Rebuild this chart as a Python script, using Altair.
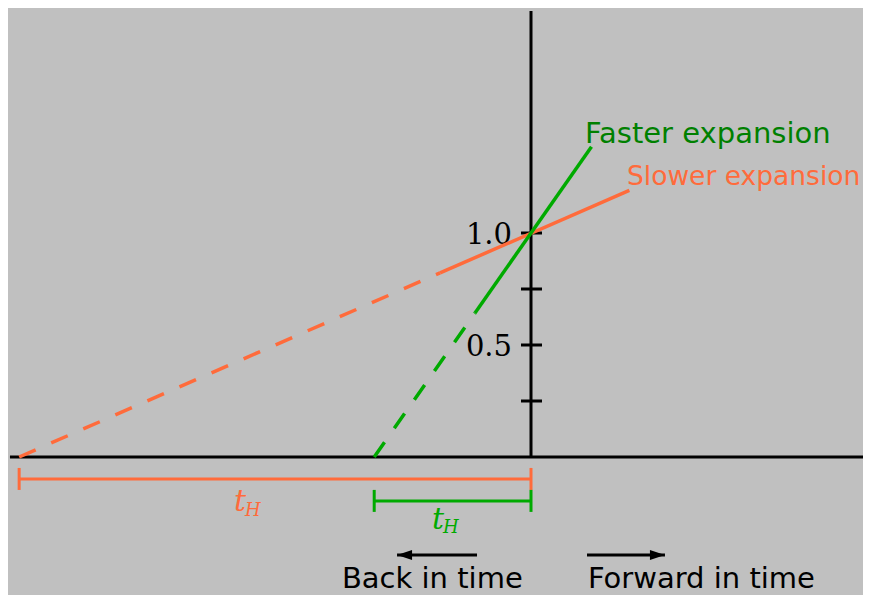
import altair as alt
import pandas as pd

# ---- canvas / scale setup (data units: y = relative size, x = time) ----
W, H = 855, 587
X_DOMAIN = [-2.3348, 1.4821]
Y_DOMAIN = [-0.6161, 2.0045]

BG = "#c0c0c0"
ORANGE = "#ff6b3b"
GREEN = "#00aa00"
DKGREEN = "#008000"

# ---- data ----
series_names = ["Slower expansion", "Faster expansion"]
name_sizes = [26.5, 29]
line_colors = [ORANGE, GREEN]
label_colors = [ORANGE, DKGREEN]
hubble_time = [2.285, 0.70]              # t_H for each series
dashed_x = [[-2.285, -0.406], [-0.70, -0.25]]
dashed_y = [[0.0, 0.822], [0.0, 0.643]]
solid_x = [[-0.406, 0.439], [-0.25, 0.27]]
solid_y = [[0.822, 1.19], [0.643, 1.385]]
name_x = [0.4286, 0.241]
name_y = [1.214, 1.402]

bracket_y = [-0.098, -0.196]
tH_label_x = [-1.326, -0.442]
tH_label_y = [-0.243, -0.321]

axis_tick_values = [0.25, 0.5, 0.75, 1.0]
axis_label_values = [0.5, 1.0]
axis_label_text = ["0.5", "1.0"]
h_axis = [-2.326, 1.52]
v_axis_top = 1.991

arrow_y = -0.4375
arrow_tail_x = [-0.241, 0.25]
arrow_tip_x = [-0.598, 0.598]
arrow_shape = ["M0,0L2,-0.67L2,0.67Z", "M0,0L-2,-0.67L-2,0.67Z"]
time_text = ["Back in time", "Forward in time"]
time_text_x = [-0.844, 0.254]
time_text_y = [-0.586, -0.586]


def X(f="x"):
    return alt.X(f"{f}:Q", scale=alt.Scale(domain=X_DOMAIN, nice=False, zero=False), axis=None)


def Y(f="y"):
    return alt.Y(f"{f}:Q", scale=alt.Scale(domain=Y_DOMAIN, nice=False, zero=False), axis=None)


layers = []

# axes lines
axes_df = pd.DataFrame({"x": [h_axis[0], 0.0], "x2": [h_axis[1], 0.0],
                        "y": [0.0, 0.0], "y2": [0.0, v_axis_top]})
layers.append(alt.Chart(axes_df).mark_rule(color="black", strokeWidth=3).encode(
    x=X(), x2="x2:Q", y=Y(), y2="y2:Q"))

# y ticks
ticks_df = pd.DataFrame({"x": [0.0] * len(axis_tick_values), "y": axis_tick_values})
layers.append(alt.Chart(ticks_df).mark_rule(color="black", strokeWidth=3, xOffset=-10, x2Offset=11).encode(
    x=X(), x2="x:Q", y=Y()))

# tick labels
tl_df = pd.DataFrame({"x": [0.0] * len(axis_label_values), "y": axis_label_values, "t": axis_label_text})
layers.append(alt.Chart(tl_df).mark_text(font="DejaVu Serif", fontSize=29, color="black",
                                          align="right", baseline="alphabetic", dx=-19, dy=11).encode(
    x=X(), y=Y(), text="t:N"))

# expansion lines
for i in range(2):
    d_df = pd.DataFrame({"x": dashed_x[i], "y": dashed_y[i]})
    s_df = pd.DataFrame({"x": solid_x[i], "y": solid_y[i]})
    layers.append(alt.Chart(d_df).mark_line(color=line_colors[i], strokeWidth=3.5,
                                            strokeDash=[18, 17], strokeCap="butt").encode(
        x=X(), y=Y(), order="x:Q"))
    layers.append(alt.Chart(s_df).mark_line(color=line_colors[i], strokeWidth=3.5, strokeCap="butt").encode(
        x=X(), y=Y(), order="x:Q"))
    n_df = pd.DataFrame({"x": [name_x[i]], "y": [name_y[i]], "t": [series_names[i]]})
    layers.append(alt.Chart(n_df).mark_text(font="DejaVu Sans", fontSize=name_sizes[i], color=label_colors[i],
                                            align="left", baseline="alphabetic").encode(
        x=X(), y=Y(), text="t:N"))

    # t_H bracket
    b_df = pd.DataFrame({"x": [-hubble_time[i]], "x2": [0.0], "y": [bracket_y[i]]})
    layers.append(alt.Chart(b_df).mark_rule(color=line_colors[i], strokeWidth=3).encode(
        x=X(), x2="x2:Q", y=Y()))
    cap_df = pd.DataFrame({"x": [-hubble_time[i], 0.0], "y": [bracket_y[i]] * 2})
    layers.append(alt.Chart(cap_df).mark_rule(color=line_colors[i], strokeWidth=3,
                                              yOffset=-11, y2Offset=11).encode(
        x=X(), y=Y(), y2="y:Q"))
    t_df = pd.DataFrame({"x": [tH_label_x[i]], "y": [tH_label_y[i]]})
    layers.append(alt.Chart(t_df).mark_text(text="t", font="DejaVu Serif", fontStyle="italic",
                                            fontSize=30, color=line_colors[i],
                                            align="left", baseline="alphabetic").encode(x=X(), y=Y()))
    layers.append(alt.Chart(t_df).mark_text(text="H", font="DejaVu Serif", fontStyle="italic",
                                            fontSize=18, color=line_colors[i],
                                            align="left", baseline="alphabetic", dx=11, dy=4.5).encode(x=X(), y=Y()))

# time arrows
for i in range(2):
    a_df = pd.DataFrame({"x": [arrow_tip_x[i]], "x2": [arrow_tail_x[i]], "y": [arrow_y]})
    layers.append(alt.Chart(a_df).mark_rule(color="black", strokeWidth=3).encode(
        x=X(), x2="x2:Q", y=Y()))
    layers.append(alt.Chart(a_df).mark_point(shape=arrow_shape[i], filled=True, size=225,
                                             color="black", opacity=1, strokeWidth=0).encode(
        x=X(), y=Y()))
    tt_df = pd.DataFrame({"x": [time_text_x[i]], "y": [time_text_y[i]], "t": [time_text[i]]})
    layers.append(alt.Chart(tt_df).mark_text(font="DejaVu Sans", fontSize=29, color="black",
                                             align="left", baseline="alphabetic").encode(
        x=X(), y=Y(), text="t:N"))

chart = alt.layer(*layers).properties(
    width=W, height=H, background=BG, padding=0,
    autosize=alt.AutoSizeParams(type="none"),
).configure_view(stroke=None)

chart.save("out.html", embed_options={"renderer": "svg", "actions": False})
